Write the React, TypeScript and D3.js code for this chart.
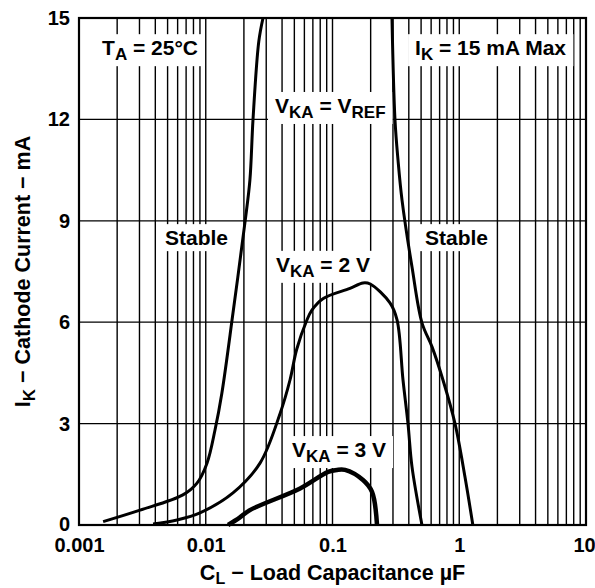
import React, { useEffect, useRef } from 'react';
import * as d3 from 'd3';

// capacitance in µF, cathode current in mA
const xTicks = [0.001, 0.01, 0.1, 1, 10];
const yTicks = [0, 3, 6, 9, 12, 15];

const vrefLeft: [number, number][] = [
  [0.00155, 0.1], [0.00303, 0.44], [0.0066, 0.89], [0.00853, 1.24], [0.01023, 1.83],
  [0.01183, 2.81], [0.0134, 3.9], [0.0164, 6.27], [0.0204, 8.96], [0.0223, 10.2],
  [0.0236, 12.0], [0.0262, 14.3], [0.0283, 15],
];
const vrefRight: [number, number][] = [
  [0.2946, 15], [0.311, 12.0], [0.3287, 10.8], [0.3534, 9.62], [0.424, 7.63],
  [0.508, 5.98], [0.61, 5.27], [0.744, 4.29], [0.926, 3.0], [1.11, 1.42], [1.28, 0],
];
const vka2: [number, number][] = [
  [0.00384, 0.03], [0.00593, 0.15], [0.009, 0.36], [0.0164, 0.95], [0.0268, 1.83],
  [0.0386, 3.3], [0.0462, 4.29], [0.0522, 5.2], [0.0626, 6.05], [0.0686, 6.35],
  [0.0846, 6.7], [0.1374, 7.0], [0.174, 7.16], [0.198, 7.13], [0.284, 6.57],
  [0.323, 6.07], [0.36, 4.29], [0.394, 3.0], [0.424, 1.72], [0.508, 0],
];
const vka3: [number, number][] = [
  [0.015, 0], [0.0185, 0.22], [0.0223, 0.44], [0.0555, 1.08], [0.0923, 1.57],
  [0.1086, 1.63], [0.1256, 1.63], [0.174, 1.33], [0.205, 0.98], [0.2245, 0],
];

// annotation text: [main, subscript, rest, x, y baseline]
const labels: [string, string, string, number, number][] = [
  ['T', 'A', ' = 25°C', 0.00152, 13.9],
  ['I', 'K', ' = 15 mA Max', 0.448, 13.9],
  ['Stable', '', '', 0.00477, 8.28],
  ['Stable', '', '', 0.537, 8.28],
];
const vkaLabels: [string, number, number][] = [
  ['REF', 0.0352, 12.19],
  ['2 V', 0.0358, 7.49],
  ['3 V', 0.0479, 2.01],
];

const App = () => {
  const ref = useRef<SVGSVGElement>(null);

  useEffect(() => {
    const width = 595;
    const height = 588;
    const margin = { top: 18, right: 9, bottom: 63, left: 79 };
    const font = "'Liberation Sans', Arial, Helvetica, sans-serif";

    const svg = d3.select(ref.current);
    svg.selectAll('*').remove();

    const x = d3.scaleLog().domain([0.001, 10]).range([margin.left, width - margin.right]);
    const y = d3.scaleLinear().domain([0, 15]).range([height - margin.bottom, margin.top]);

    // grid
    const minor: number[] = [];
    for (let d = -3; d < 1; d++) {
      for (let k = 1; k <= 9; k++) minor.push(k * Math.pow(10, d));
    }
    const grid = svg.append('g');
    grid.selectAll('.vx')
      .data(minor)
      .enter().append('line')
      .attr('x1', d => x(d)).attr('x2', d => x(d))
      .attr('y1', y(0)).attr('y2', y(15))
      .attr('stroke', '#000').attr('stroke-width', 1.4);
    grid.selectAll('.hy')
      .data(yTicks)
      .enter().append('line')
      .attr('x1', x(0.001)).attr('x2', x(10))
      .attr('y1', d => y(d)).attr('y2', d => y(d))
      .attr('stroke', '#000').attr('stroke-width', 1.2);

    const ann = svg.append('g')
      .attr('font-family', font)
      .attr('font-weight', 'bold')
      .attr('font-size', 21)
      .attr('fill', '#000');

    const addLabel = (main: string, sub: string, rest: string, lx: number, ly: number, sub2?: string) => {
      const g = ann.append('g');
      const t = g.append('text').attr('x', x(lx)).attr('y', y(ly));
      t.append('tspan').text(main);
      if (sub) t.append('tspan').attr('font-size', 17).attr('dy', 5).text(sub);
      if (rest) t.append('tspan').attr('dy', sub ? -5 : 0).text(rest);
      if (sub2) t.append('tspan').attr('font-size', 17).attr('dy', 5).text(sub2);
      const b = (t.node() as SVGTextElement).getBBox();
      g.insert('rect', 'text')
        .attr('x', b.x - 7).attr('y', b.y - 2)
        .attr('width', b.width + 14).attr('height', b.height + 4)
        .attr('fill', '#fff');
    };

    labels.forEach(([m, s, r, lx, ly]) => addLabel(m, s, r, lx, ly));
    vkaLabels.forEach(([v, lx, ly]) => {
      if (v === 'REF') addLabel('V', 'KA', ' = V', lx, ly, 'REF');
      else addLabel('V', 'KA', ' = ' + v, lx, ly);
    });

    // curves
    const line = d3.line<[number, number]>()
      .x(d => x(d[0]))
      .y(d => y(d[1]))
      .curve(d3.curveCatmullRom.alpha(0.5));

    [vrefLeft, vrefRight, vka2].forEach(c => {
      svg.append('path')
        .attr('d', line(c))
        .attr('fill', 'none')
        .attr('stroke', '#000')
        .attr('stroke-width', 3);
    });
    svg.append('path')
      .attr('d', line(vka3))
      .attr('fill', 'none')
      .attr('stroke', '#000')
      .attr('stroke-width', 4.5);

    // frame
    svg.append('rect')
      .attr('x', x(0.001)).attr('y', y(15))
      .attr('width', x(10) - x(0.001)).attr('height', y(0) - y(15))
      .attr('fill', 'none').attr('stroke', '#000').attr('stroke-width', 2.2);

    // axes
    const xAxis = svg.append('g')
      .attr('transform', `translate(0,${y(0)})`)
      .call(d3.axisBottom(x).tickValues(xTicks).tickFormat(d => String(d)).tickSize(0).tickPadding(13));
    const yAxis = svg.append('g')
      .attr('transform', `translate(${x(0.001)},0)`)
      .call(d3.axisLeft(y).tickValues(yTicks).tickSize(0).tickPadding(9));
    [xAxis, yAxis].forEach(a => {
      a.select('.domain').remove();
      a.selectAll('text')
        .attr('font-family', font)
        .attr('font-weight', 'bold')
        .attr('font-size', 20)
        .attr('fill', '#000');
    });
    xAxis.selectAll<SVGTextElement, number>('text')
      .attr('dx', d => (d === 10 ? -2 : 0));
    yAxis.selectAll<SVGTextElement, number>('text')
      .attr('dy', d => (d === 0 ? '0.25em' : '0.32em'));

    // axis titles
    const xt = svg.append('text')
      .attr('x', (x(0.001) + x(10)) / 2).attr('y', 580)
      .attr('text-anchor', 'middle')
      .attr('font-family', font).attr('font-weight', 'bold').attr('font-size', 21.5);
    xt.append('tspan').text('C');
    xt.append('tspan').attr('font-size', 16).attr('dy', 4).text('L');
    xt.append('tspan').attr('dy', -4).text(' − Load Capacitance µF');

    const yt = svg.append('text')
      .attr('transform', `translate(30,${(y(0) + y(15)) / 2}) rotate(-90)`)
      .attr('text-anchor', 'middle')
      .attr('font-family', font).attr('font-weight', 'bold').attr('font-size', 21.5);
    yt.append('tspan').text('I');
    yt.append('tspan').attr('font-size', 17).attr('dy', 5).text('K');
    yt.append('tspan').attr('dy', -5).text(' − Cathode Current − mA');
  }, []);

  return (
    <div style={{ position: 'absolute', left: 0, top: 0 }}>
      <svg ref={ref} width={595} height={588} style={{ display: 'block', background: '#fff' }}></svg>
    </div>
  );
};

export default App;
